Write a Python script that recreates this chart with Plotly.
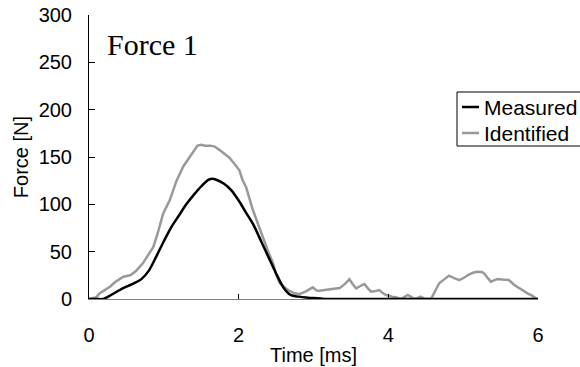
import plotly.graph_objects as go

# Measured force (black)
t_measured = [0.0, 0.1, 0.19, 0.3, 0.4, 0.5, 0.6, 0.7, 0.8, 0.9, 1.0, 1.1, 1.2, 1.3, 1.4, 1.5,
              1.6, 1.65, 1.7, 1.8, 1.9, 2.0, 2.1, 2.2, 2.3, 2.4, 2.5, 2.6, 2.7, 2.8, 2.9, 3.0,
              3.1, 3.2, 4.0, 5.0, 6.0]
f_measured = [0, 0, 0, 4.5, 9, 13, 16.5, 21, 30, 45, 61, 76, 88, 100, 110, 119,
              126, 127, 126, 122, 115, 104, 91, 78, 61, 44, 27, 12, 4, 2.5, 1.5, 1,
              0.4, 0, 0, 0, 0]

# Identified force (gray)
t_identified = [0.0, 0.05, 0.1, 0.14, 0.2, 0.28, 0.35, 0.46, 0.55, 0.62, 0.72, 0.8, 0.86, 0.92,
                0.99, 1.08, 1.17, 1.26, 1.33, 1.39, 1.45, 1.5, 1.55, 1.62, 1.68, 1.75, 1.82,
                1.88, 1.95, 2.01, 2.05, 2.1, 2.19, 2.26, 2.32, 2.39, 2.46, 2.5, 2.55, 2.62,
                2.68, 2.75, 2.81, 2.9, 2.99, 3.04, 3.08, 3.15, 3.21, 3.28, 3.35, 3.42, 3.48,
                3.53, 3.57, 3.63, 3.68, 3.73, 3.77, 3.83, 3.88, 3.93, 3.97, 4.05, 4.1, 4.17,
                4.22, 4.26, 4.31, 4.35, 4.4, 4.43, 4.47, 4.5, 4.57, 4.62, 4.68, 4.75, 4.81,
                4.88, 4.95, 5.02, 5.08, 5.14, 5.19, 5.25, 5.28, 5.33, 5.37, 5.42, 5.46, 5.52,
                5.61, 5.68, 5.75, 5.81, 5.86, 5.92, 5.97, 6.0]
f_identified = [0, 1, 2, 6, 9, 13, 18, 23.5, 25, 29, 37.7, 47, 55, 70,
                90, 104.5, 125, 140, 148, 154, 162, 163, 162, 162, 161, 157, 153,
                149, 142, 136, 126, 118, 94, 80, 66, 51, 37.7, 26, 16.6, 12,
                8.5, 6, 5, 8, 12.3, 9, 8.8, 9.5, 10, 10.5, 11.5, 16, 20.8,
                15, 11.3, 14, 15.8, 11, 7.7, 8.5, 9.5, 6, 4.2, 2.5, 2, 0,
                2, 4.2, 2, 0, 1.5, 2.5, 1, 0, 0, 8, 16.6, 21, 24.6,
                22, 20, 23, 26, 28, 28.8, 28.5, 27, 22, 18.3, 20, 21, 20.5,
                20, 15, 11.3, 8.5, 6, 3.5, 0.7, 0]

x_ticks = [0, 2, 4, 6]
y_ticks = [0, 50, 100, 150, 200, 250, 300]
series_names = ["Measured", "Identified"]
series_colors = ["#000000", "#999999"]

FONT = "Liberation Sans, Arial, sans-serif"

fig = go.Figure()
fig.add_trace(go.Scatter(x=t_identified, y=f_identified, mode="lines", name=series_names[1],
                         line=dict(color=series_colors[1], width=2.5), showlegend=False))
fig.add_trace(go.Scatter(x=t_measured, y=f_measured, mode="lines", name=series_names[0],
                         line=dict(color=series_colors[0], width=2.5, shape="spline", smoothing=0.8),
                         showlegend=False))

fig.update_layout(
    width=580, height=367,
    margin=dict(l=89, r=42, t=15, b=68, autoexpand=False),
    paper_bgcolor="white", plot_bgcolor="white",
    font=dict(family=FONT, size=20, color="black"),
    showlegend=False,
)
fig.update_xaxes(range=[0, 6], tickvals=x_ticks, ticks="inside", ticklen=5, tickcolor="black",
                 showline=True, linecolor="#808080", linewidth=1, showgrid=False, zeroline=False,
                 ticklabelstandoff=18,
                 title=dict(text="Time [ms]", font=dict(size=20), standoff=2))
fig.update_yaxes(range=[0, 300], tickvals=y_ticks, ticks="inside", ticklen=6, tickcolor="black",
                 showline=True, linecolor="black", linewidth=1, showgrid=False, zeroline=False,
                 ticklabelstandoff=12,
                 title=dict(text="Force [N]", font=dict(size=20), standoff=4))

# Manual legend (box, line samples, labels)
x0 = (457 - 89) / 449
y_top = (299 - 92) / 284
y_bot = (299 - 146) / 284
fig.add_shape(type="rect", xref="paper", yref="paper", x0=x0, x1=1.25, y0=y_bot, y1=y_top,
              line=dict(color="black", width=1), fillcolor="white", layer="above")
rows = [(299 - 107) / 284, (299 - 133) / 284]
for name, col, yy in zip(series_names, series_colors, rows):
    fig.add_shape(type="line", xref="paper", yref="paper",
                  x0=(462 - 89) / 449, x1=(479 - 89) / 449, y0=yy, y1=yy,
                  line=dict(color=col, width=2.5), layer="above")
    fig.add_annotation(text=name, xref="paper", yref="paper", x=(482 - 89) / 449, y=yy,
                       xanchor="left", yanchor="middle", showarrow=False,
                       font=dict(family=FONT, size=21, color="black"))

fig.add_annotation(text="Force 1", xref="paper", yref="paper", x=(105 - 89) / 449,
                   y=(299 - 45) / 284, xanchor="left", yanchor="middle", showarrow=False,
                   font=dict(family="Liberation Serif, Times New Roman, serif", size=30, color="black"))

fig.write_html("out.html")
